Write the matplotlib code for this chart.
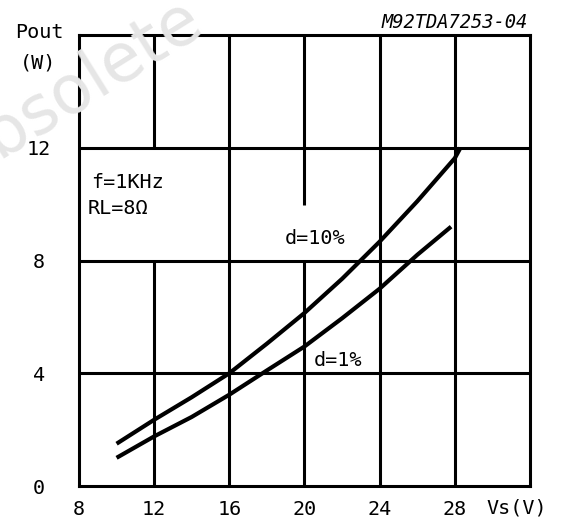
import matplotlib
matplotlib.use("Agg")
import matplotlib.pyplot as plt

# ---- data ----
vs_d10 = [10, 12, 14, 16, 18, 20, 22, 24, 26, 28, 28.3]
pout_d10 = [1.5, 2.35, 3.15, 4.0, 5.05, 6.14, 7.35, 8.67, 10.1, 11.63, 12.0]
vs_d1 = [10, 12, 14, 16, 18, 20, 22, 24, 26, 27.8]
pout_d1 = [1.0, 1.76, 2.45, 3.24, 4.1, 4.95, 5.95, 7.0, 8.2, 9.2]

x_grid = [8, 12, 16, 20, 24, 28, 32]
y_grid = [0, 4, 8, 12, 16]
x_ticks = [8, 12, 16, 20, 24, 28]
x_ticklabels = ["8", "12", "16", "20", "24", "28"]
y_ticks = [0, 4, 8, 12]
y_ticklabels = ["0", "4", "8", "12"]

MONO = "DejaVu Sans Mono"
FS = 14.5
LW_GRID = 2.2
LW_CURVE = 3.0

fig = plt.figure(figsize=(5.63, 5.20), dpi=100)
fig.patch.set_facecolor("white")

# watermark
fig.text(0.125, 0.822, "Obsolete", fontsize=48, color="#e6e6e6",
         family="DejaVu Sans", rotation=32, rotation_mode="anchor",
         ha="center", va="center", zorder=0)

ax = fig.add_axes([79 / 563, 1 - 486 / 520, 451 / 563, 451 / 520])
ax.patch.set_visible(False)
ax.set_xlim(8, 32)
ax.set_ylim(0, 16)

for s in ax.spines.values():
    s.set_linewidth(LW_GRID)
    s.set_color("black")

# horizontal grid lines
for y in y_grid[1:-1]:
    ax.axhline(y, color="black", lw=LW_GRID, zorder=1)
# vertical grid lines (with gaps where the reference has text)
for x in x_grid[1:-1]:
    if x == 12:
        ax.vlines(x, 0, 8, color="black", lw=LW_GRID, zorder=1)
        ax.vlines(x, 12, 16, color="black", lw=LW_GRID, zorder=1)
    elif x == 20:
        ax.vlines(x, 0, 8, color="black", lw=LW_GRID, zorder=1)
        ax.vlines(x, 9.97, 16, color="black", lw=LW_GRID, zorder=1)
    else:
        ax.vlines(x, 0, 16, color="black", lw=LW_GRID, zorder=1)

ax.plot(vs_d10, pout_d10, color="black", lw=LW_CURVE, solid_capstyle="butt", zorder=3)
ax.plot(vs_d1, pout_d1, color="black", lw=LW_CURVE, solid_capstyle="butt", zorder=3)

ax.set_xticks(x_ticks)
ax.set_xticklabels(x_ticklabels, family=MONO, fontsize=FS)
ax.set_yticks(y_ticks)
ax.set_yticklabels(y_ticklabels, family=MONO, fontsize=FS)
ax.tick_params(axis="both", length=0)
ax.tick_params(axis="x", pad=10)
ax.tick_params(axis="y", pad=29)
for lbl in ax.get_yticklabels():
    lbl.set_ha("center")

# axis labels
fig.text(39 / 563, 1 - 33 / 520, "Pout", family=MONO, fontsize=FS, ha="center", va="center")
fig.text(38 / 563, 1 - 63 / 520, "(W)", family=MONO, fontsize=FS, ha="center", va="center")
fig.text(486 / 563, 1 - 508 / 520, "Vs(V)", family=MONO, fontsize=FS, ha="left", va="center")
fig.text(528 / 563, 1 - 22 / 520, "M92TDA7253-04", family=MONO, fontsize=13.5,
         style="italic", ha="right", va="center")

# annotations inside the chart
ax.text((91 - 79) / 451, (486 - 182) / 451, "f=1KHz", transform=ax.transAxes,
        family=MONO, fontsize=FS, ha="left", va="center")
ax.text((88 - 79) / 451, (486 - 208) / 451, "RL=8Ω", transform=ax.transAxes,
        family=MONO, fontsize=FS, ha="left", va="center")
ax.text((285 - 79) / 451, (486 - 238) / 451, "d=10%", transform=ax.transAxes,
        family=MONO, fontsize=FS, ha="left", va="center")
ax.text((314 - 79) / 451, (486 - 360) / 451, "d=1%", transform=ax.transAxes,
        family=MONO, fontsize=FS, ha="left", va="center")

fig.savefig("out.png", dpi=100, facecolor="white")
